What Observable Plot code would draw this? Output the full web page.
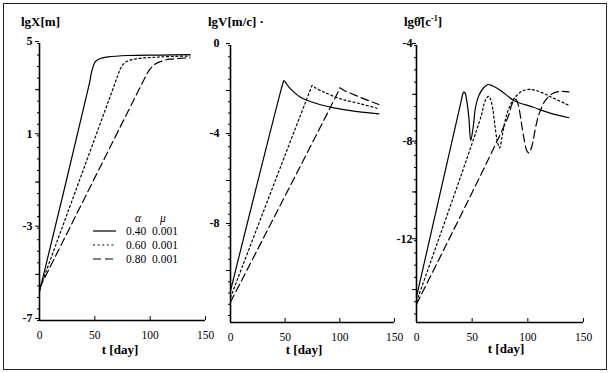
<!DOCTYPE html>
<html><head><meta charset="utf-8">
<script src="https://cdn.jsdelivr.net/npm/d3@7"></script>
<script src="https://cdn.jsdelivr.net/npm/@observablehq/plot@0.6"></script>
<style>
body{margin:0;background:#fff}
#fig{position:relative;width:612px;height:373px;overflow:hidden;background:#fff;font-family:"Liberation Serif","Times New Roman",serif;color:#000}
.abs{position:absolute;white-space:nowrap;line-height:1}
.title{font-weight:bold;font-size:13px}
.xlab{font-weight:bold;font-size:13px;transform:translateX(-50%)}
.frame{position:absolute;left:3px;top:3px;width:602px;height:365px;border:1px solid #222}
svg.p{position:absolute;top:0}
sup{font-size:8px;vertical-align:5px}
</style></head>
<body>
<div id="fig">
  <div class="frame"></div>
  <div class="abs title" style="left:21px;top:15px">lgX[m]</div>
  <div class="abs title" style="left:208px;top:15px">lgV[m/c]&nbsp;·</div>
  <div class="abs title" style="left:404px;top:15px">lgθ̇[c<sup>-1</sup>]</div>
  <div class="abs xlab" style="left:120px;top:343px">t [day]</div>
  <div class="abs xlab" style="left:304px;top:343px">t [day]</div>
  <div class="abs xlab" style="left:506px;top:342px">t [day]</div>
</div>
<script>
// ---- data ----
const dayTicks = [0, 50, 100, 150];
const alphas = ["0.40", "0.60", "0.80"];
const mus = ["0.001", "0.001", "0.001"];

// Panel 1: lgX [m]
const tX040 = [0, 45, 47, 49, 51, 55, 62, 80, 110, 136];
const lgX040 = [-5.75, 3.25, 3.75, 4.08, 4.24, 4.35, 4.42, 4.48, 4.5, 4.52];
const tX060 = [0, 68, 71, 73, 76, 80, 88, 110, 136];
const lgX060 = [-5.65, 3.25, 3.65, 3.9, 4.12, 4.25, 4.34, 4.42, 4.46];
const tX080 = [0, 93, 97, 100, 103, 106, 112, 118, 136];
const lgX080 = [-5.6, 3.3, 3.68, 3.9, 4.05, 4.15, 4.26, 4.32, 4.38];

// Panel 2: lgV [m/c]
const tV040 = [0, 47.5, 48.8, 50.5, 53.4, 58, 64, 79.3, 94.5, 109.8, 135.7];
const lgV040 = [-10.9, -1.75, -1.56, -1.65, -1.85, -2.07, -2.3, -2.59, -2.77, -2.89, -3.04];
const tV060 = [0, 73.2, 74.7, 76.5, 79, 85.4, 100.6, 118.9, 135.7];
const lgV060 = [-11.2, -1.95, -1.78, -1.84, -1.92, -2.07, -2.37, -2.59, -2.81];
const tV080 = [0, 98.5, 100, 101.8, 104, 109.8, 122, 135.7];
const lgV080 = [-11.4, -2.05, -1.88, -1.93, -2.0, -2.12, -2.37, -2.62];

// Panel 3: lg theta-dot [c^-1]
const tQ040 = [0, 39.5, 41.5, 42.5, 43.7, 44.9, 47, 48.7, 50.9, 53, 56, 60.5, 64, 68, 75.5, 87.4, 105, 120, 136.8];
const lgQ040 = [-14.3, -6.4, -6.0, -5.91, -5.95, -6.2, -6.94, -7.89, -7.35, -6.53, -6.05, -5.72, -5.6, -5.65, -5.84, -6.25, -6.53, -6.77, -6.96];
const tQ060 = [0, 58, 61, 63.5, 65, 66.5, 68.5, 70.5, 72.5, 74.6, 77, 79.5, 82, 86, 90, 95, 100.7, 106, 112, 120.4, 136.8];
const lgQ060 = [-14.5, -6.9, -6.35, -6.12, -6.08, -6.2, -6.6, -7.3, -7.9, -8.2, -7.7, -7.1, -6.7, -6.3, -6.05, -5.87, -5.8, -5.83, -5.92, -6.1, -6.45];
const tQ080 = [0, 82, 85, 87, 88.5, 90, 92, 94, 96.5, 99, 101, 103.5, 106, 108.5, 111.4, 115, 119, 123, 130, 136.8];
const lgQ080 = [-14.6, -6.95, -6.5, -6.28, -6.2, -6.25, -6.55, -7.1, -7.8, -8.3, -8.4, -8.15, -7.6, -7.05, -6.65, -6.3, -6.08, -5.95, -5.88, -5.9];

const dashes = [null, "2,2.6", "8,4"];

function series(ts, vs) {
  return ts.map((t, k) => t.map((d, i) => ({t: d, v: vs[k][i]})));
}

function panel(cfg) {
  const data = series(cfg.t, cfg.v);
  const el = Plot.plot({
    width: cfg.width, height: 373,
    marginLeft: cfg.ml, marginRight: cfg.mr, marginTop: cfg.mt, marginBottom: cfg.mb,
    x: {domain: [0, 150], axis: null},
    y: {domain: cfg.yDomain, axis: null},
    style: {background: "transparent", overflow: "visible", fontFamily: "Liberation Serif", color: "#000"},
    marks: [
      Plot.axisY({ticks: cfg.yFine, tickSize: 2, tickFormat: () => "", label: null, stroke: "#000"}),
      Plot.axisY({ticks: cfg.yMid, tickSize: 4, tickFormat: () => "", label: null, stroke: "#000"}),
      Plot.axisY({ticks: cfg.yMajor, tickSize: 4, tickPadding: cfg.tp, dy: -2, fontWeight: "bold", fontSize: 12, tickFormat: d => String(d), label: null, stroke: "#000"}),
      Plot.axisX({ticks: dayTicks, tickSize: 0, tickPadding: 10, fontSize: 11.5, tickFormat: d => String(d), label: null}),
      Plot.axisX({ticks: dayTicks.slice(1), tickSize: 4, dy: -4, tickFormat: () => "", label: null, stroke: "#000"}),
      Plot.ruleX([0], {stroke: "#000", strokeWidth: 1.6}),
      Plot.ruleY([cfg.yDomain[0]], {stroke: "#000", strokeWidth: 1.6}),
      ...data.map((d, k) => Plot.line(d, {x: "t", y: "v", stroke: "#000", strokeWidth: 1.2, strokeDasharray: dashes[k], curve: "catmull-rom"}))
    ]
  });
  el.classList.add("p");
  el.style.left = cfg.left + "px";
  document.getElementById("fig").appendChild(el);
}

const range = (a, b, s) => d3.range(a, b + s / 2, s);

panel({left: 0, width: 210, ml: 39, mr: 5, mt: 43, mb: 53, tp: 3,
  yDomain: [-7, 5], yMajor: [5, 1, -3, -7], yMid: [3, -1, -5], yFine: range(-7, 5, 0.5),
  t: [tX040, tX060, tX080], v: [lgX040, lgX060, lgX080]});
panel({left: 195, width: 205, ml: 35, mr: 6, mt: 45, mb: 51, tp: 7,
  yDomain: [-12.31, 0], yMajor: [0, -4, -8], yMid: [-2, -6, -10], yFine: range(-12, 0, 0.5),
  t: [tV040, tV060, tV080], v: [lgV040, lgV060, lgV080]});
panel({left: 385, width: 227, ml: 31, mr: 29, mt: 45, mb: 51, tp: 0,
  yDomain: [-15.35, -4], yMajor: [-4, -8, -12], yMid: [-6, -10, -14], yFine: range(-15, -4, 0.5),
  t: [tQ040, tQ060, tQ080], v: [lgQ040, lgQ060, lgQ080]});

// legend in panel 1
const lg = d3.select("#fig").append("svg")
  .attr("width", 612).attr("height", 373)
  .style("position", "absolute").style("left", 0).style("top", 0)
  .style("font-family", "Liberation Serif").style("font-size", "11.5px");
lg.append("text").attr("x", 138).attr("y", 222).attr("font-style", "italic").attr("text-anchor", "middle").text("α");
lg.append("text").attr("x", 163).attr("y", 222).attr("font-style", "italic").attr("text-anchor", "middle").text("μ");
alphas.forEach((a, i) => {
  const y = 231 + i * 14;
  lg.append("line").attr("x1", 93).attr("x2", 116).attr("y1", y).attr("y2", y)
    .attr("stroke", "#000").attr("stroke-width", 1.2).attr("stroke-dasharray", dashes[i]);
  lg.append("text").attr("x", 126).attr("y", y + 4).text(a);
  lg.append("text").attr("x", 152).attr("y", y + 4).text(mus[i]);
});
</script>
</body></html>
